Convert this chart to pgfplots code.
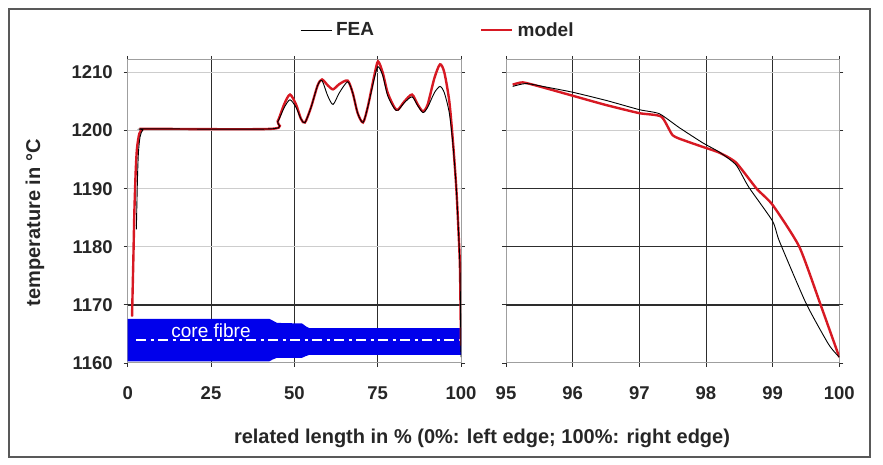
\documentclass[border=0pt]{standalone}
\usepackage{fontspec}
\setmainfont{Liberation Sans}
\usepackage{pgfplots}
\pgfplotsset{compat=1.18}
\definecolor{modelred}{RGB}{215,25,35}
\definecolor{coreblue}{RGB}{0,0,235}
\definecolor{gridlight}{RGB}{205,205,205}
\definecolor{griddark}{RGB}{45,45,45}
\pgfplotsset{
  panel/.style={
    scale only axis, width=333.3pt, height=303pt,
    ymin=1160, ymax=1212.15,
    ytick={1160,1170,...,1210},
    tick align=outside, major tick length=4pt,
    tick style={griddark, line width=0.8pt},
    axis line style={gray!75, line width=1pt},
    ymajorgrids, xmajorgrids,
    y grid style={gridlight, line width=1pt},
    x grid style={griddark, line width=0.9pt},
    ticklabel style={font=\fontsize{18.5}{20}\selectfont\bfseries, text=black!85},
    /pgf/number format/assume math mode=true,
    /pgf/number format/set thousands separator={},
    xticklabel shift=16pt,
    yticklabel shift=7.5pt,
    extra y tick labels={},
    extra y tick style={grid=major, y grid style={griddark, line width=1.3pt}, major grid style={griddark, line width=1.3pt}},
  }
}
\begin{document}
\begin{tikzpicture}
\path[use as bounding box] (0pt,0pt) rectangle (883pt,465pt);
\draw[gray!70!black, line width=1.5pt] (9pt,8pt) rectangle (870pt,456pt);

% ---------- left panel ----------
\begin{axis}[panel,
  at={(127.7pt,102pt)}, anchor=south west,
  xmin=0, xmax=100, xtick={0,25,50,75,100},
  extra y ticks={1170},
  legend columns=2,
  legend style={at={(axis description cs:0.517,1.099)}, anchor=west, draw=none, fill=none,
    inner sep=0pt, font=\fontsize{19}{21}\selectfont\bfseries,
    /tikz/every even column/.append style={column sep=102pt},
    nodes={inner sep=4pt, text=black!85}},
  legend image code/.code={\draw[#1] (0pt,0pt) -- (31pt,0pt);},
]
% core fibre band
\addplot[fill=coreblue, draw=none, forget plot] coordinates {
 (0,1160.3) (42.5,1160.3) (43.5,1160.6) (44.8,1160.9) (52.3,1160.9) (53.5,1161.2) (54.5,1161.4) (100,1161.4)
 (100,1166.0) (54.5,1166.0) (53.5,1166.3) (52.3,1166.8) (44.8,1166.9) (43.5,1167.3) (42.5,1167.6) (0,1167.6)} -- cycle;
\addplot[white, line width=1.8pt, dash pattern=on 10pt off 4.5pt on 3pt off 4.5pt, forget plot]
 coordinates {(2.5,1164) (100,1164)};
\node[text=white, font=\fontsize{19}{21}\selectfont] at (axis cs:25,1165.6) {core fibre};

\addlegendimage{black, line width=0.9pt}
\addlegendentry{FEA}
\addlegendimage{modelred, line width=2.5pt}
\addlegendentry{model}

% model
\addplot[modelred, line width=2.4pt, smooth, tension=0.45, forget plot] coordinates {
 (1.3,1168) (1.7,1178) (2.0,1186) (2.4,1193) (2.8,1197) (3.5,1199.5) (4.5,1200.2) (6,1200.3)
 (43,1200.3) (45,1201.6) (47,1204.6) (48.7,1206.2) (50.5,1204.5) (52,1202) (53.2,1201.4)
 (55,1204) (57,1207.8) (58.3,1208.8) (60,1207.8) (61.6,1207.1) (63.5,1208) (66,1208.6)
 (67.5,1206.5) (69,1203) (70.6,1201.4) (72,1204) (74,1209.5) (75.1,1211.9) (76.5,1210)
 (78,1206.5) (80,1204) (81.1,1203.6) (83,1205) (85.3,1206.2) (87,1204.5) (88.6,1203.3)
 (90,1204.5) (92,1209) (93.7,1211.4) (95,1210) (96.5,1205) (97.6,1198) (98.6,1190)
 (99.3,1182) (99.7,1176) (100,1163)};
% FEA
\addplot[black, line width=0.9pt, smooth, tension=0.45, forget plot] coordinates {
 (2.6,1183) (2.9,1191) (3.2,1196) (3.7,1198.9) (4.5,1200.1) (6,1200.3)
 (43,1200.3) (45,1201.5) (47,1204) (48.7,1205.3) (50.5,1204) (52,1202) (53.2,1201.4)
 (55,1204) (57,1207.8) (58.3,1208.6) (60,1206) (61.6,1204.5) (63.5,1206.5) (66,1208.4)
 (67.5,1206.5) (69,1203) (70.6,1201.4) (72,1204) (74,1209) (75.1,1211) (76.5,1209.5)
 (78,1206) (80,1203.8) (81.1,1203.5) (83,1204.8) (85.3,1205.8) (87,1204.3) (88.6,1203.1)
 (90,1204) (92,1206.5) (93.7,1207.6) (95,1206.5) (96.5,1203) (97.6,1197.5) (98.6,1190)
 (99.3,1182) (99.7,1176) (100,1161)};
\end{axis}

% ---------- right panel ----------
\begin{axis}[panel,
  at={(506pt,102pt)}, anchor=south west,
  xmin=95, xmax=100, xtick={95,96,...,100},
  yticklabels={},
  extra y ticks={1170,1180,1190},
]
\addplot[modelred, line width=2.4pt, smooth, tension=0.35] coordinates {
 (95.1,1207.9) (95.25,1208.3) (95.5,1207.6) (96,1206) (96.5,1204.4) (97,1203) (97.33,1202.4)
 (97.5,1199.2) (97.7,1198.2) (97.95,1197.2) (98.2,1196.2) (98.45,1194.5) (98.76,1190)
 (99,1187.2) (99.4,1180) (99.72,1170) (100,1161)};
\addplot[black, line width=0.9pt, smooth, tension=0.35] coordinates {
 (95.1,1207.6) (95.3,1208.1) (95.6,1207.5) (96,1206.6) (96.5,1205.2) (97,1203.6) (97.3,1202.9)
 (97.6,1200.5) (97.95,1197.9) (98.2,1196.3) (98.45,1194.1) (98.64,1190.3) (99,1184.4)
 (99.1,1181) (99.5,1170.3) (99.84,1163.2) (100,1161)};
\end{axis}

\node[font=\fontsize{20}{22}\selectfont\bfseries, text=black!85] at (482pt,27pt)
  {related length in \% (0\%: left edge; 100\%: right edge)};
\node[font=\fontsize{20}{22}\selectfont\bfseries, text=black!85, rotate=90] at (35pt,242pt)
  {temperature in °C};
\end{tikzpicture}
\end{document}
